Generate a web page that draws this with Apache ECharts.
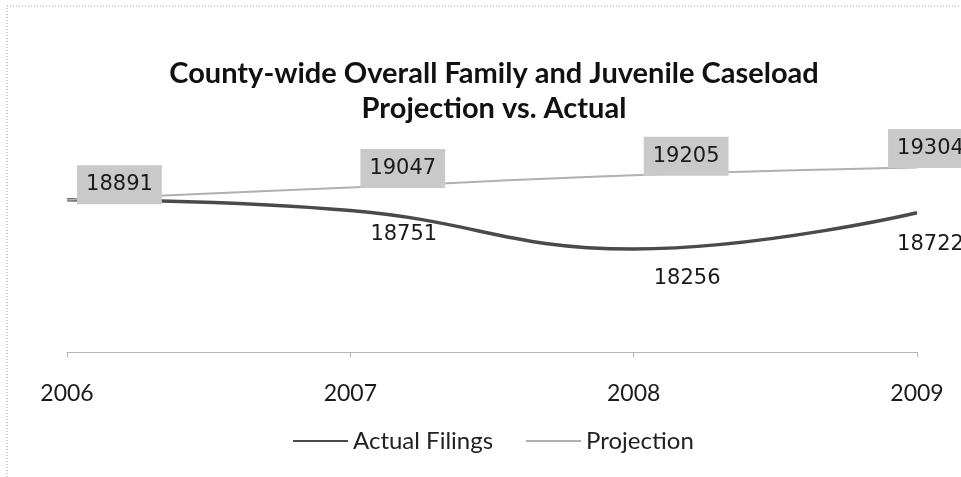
<!DOCTYPE html>
<html>
<head>
<meta charset="utf-8">
<script src="https://cdn.jsdelivr.net/npm/echarts@6/dist/echarts.min.js"></script>
<style>
  html, body { margin: 0; padding: 0; background: #fff; }
  #main { width: 961px; height: 477px; }
</style>
</head>
<body>
<div id="main"></div>
<script>
  // chart data
  const years = ['2006', '2007', '2008', '2009']
  const actualFilings = [18891, 18751, 18256, 18722]
  const projection = [18891, 19047, 19205, 19304]

  // where each data label sits relative to its point (px)
  const projLabelOffsets = [[10, -15], [10, -19], [10, -19], [-29, -19]]
  const actualLabelOffsets = [[0, 0], [20, 24], [20, 30], [-20, 32]]

  const myChart = echarts.init(document.getElementById('main'))

  const projData = projection.map((v, i) => ({
    value: v,
    label: { offset: projLabelOffsets[i] }
  }))
  const actualData = actualFilings.map((v, i) => ({
    value: v,
    // 2006 is shared with the projection, only one label is shown
    label: { show: i > 0, offset: actualLabelOffsets[i] }
  }))

  myChart.setOption({
    animation: false,
    title: {
      text: 'County-wide Overall Family and Juvenile Caseload\nProjection vs. Actual',
      left: 489,
      top: 51,
      textAlign: 'center',
      textStyle: {
        fontFamily: 'Lato',
        fontWeight: 'bold',
        fontSize: 29,
        lineHeight: 35,
        color: '#111'
      }
    },
    legend: {
      data: ['Actual Filings', 'Projection'],
      left: 287,
      top: 424,
      itemWidth: 55,
      itemHeight: 14,
      itemGap: 32,
      itemStyle: { opacity: 0 },
      textStyle: {
        fontFamily: 'Lato',
        fontSize: 24,
        color: '#222'
      }
    },
    grid: {
      left: 67,
      right: 44,
      top: 150,
      bottom: 125
    },
    xAxis: {
      type: 'category',
      boundaryGap: false,
      data: years,
      axisLine: { lineStyle: { color: '#b5b5b5', width: 1 } },
      axisTick: { length: 5, lineStyle: { color: '#b5b5b5' } },
      axisLabel: {
        margin: 30,
        fontFamily: 'Lato',
        fontSize: 23,
        color: '#1a1a1a'
      }
    },
    yAxis: {
      type: 'value',
      min: 16930,
      max: 19530,
      show: false,
      splitLine: { show: false }
    },
    series: [
      {
        name: 'Actual Filings',
        type: 'line',
        data: actualData,
        smooth: 0.45,
        symbol: 'circle',
        symbolSize: 0.1,
        showSymbol: true,
        lineStyle: { color: '#4a4a4a', width: 3.5 },
        itemStyle: { color: '#4a4a4a' },
        label: {
          show: true,
          position: 'right',
          distance: 0,
          fontFamily: 'DejaVu Sans',
          fontSize: 21,
          color: '#1a1a1a'
        }
      },
      {
        name: 'Projection',
        type: 'line',
        data: projData,
        smooth: 0.45,
        symbol: 'circle',
        symbolSize: 0.1,
        showSymbol: true,
        lineStyle: { color: '#b0b0b0', width: 2 },
        itemStyle: { color: '#b0b0b0' },
        label: {
          show: true,
          position: 'right',
          distance: 0,
          fontFamily: 'DejaVu Sans',
          fontSize: 21,
          color: '#1a1a1a',
          backgroundColor: '#c9c9c9',
          padding: [9, 9]
        }
      }
    ],
    graphic: [
      {
        type: 'polyline',
        shape: { points: [[7, 477], [7, 6], [961, 6]] },
        style: { fill: null, stroke: '#9a9a9a', lineWidth: 1, lineDash: [1, 2] }
      }
    ]
  })
</script>
</body>
</html>
